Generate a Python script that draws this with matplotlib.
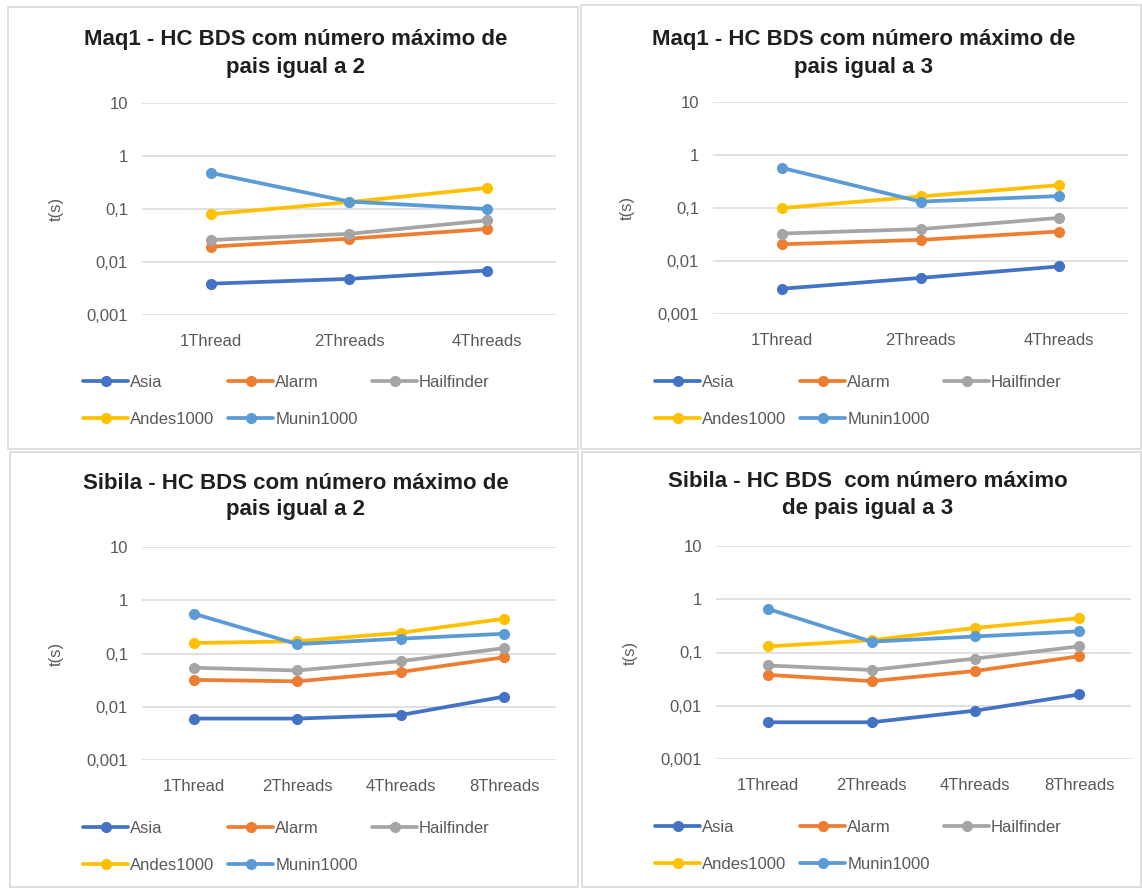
import matplotlib
matplotlib.use("Agg")
import matplotlib.pyplot as plt
from matplotlib.patches import Rectangle
from matplotlib.ticker import FixedLocator, FixedFormatter, NullLocator

plt.rcParams['font.family'] = ['Liberation Sans', 'DejaVu Sans']

W, H = 1142, 888

series = ["Asia", "Alarm", "Hailfinder", "Andes1000", "Munin1000"]
colors = ["#4472C4", "#ED7D31", "#A5A5A5", "#FFC000", "#5B9BD5"]

cats_3 = ["1Thread", "2Threads", "4Threads"]
cats_4 = ["1Thread", "2Threads", "4Threads", "8Threads"]

# Maq1, max parents = 2
maq1_p2 = {
    "Asia":       [0.0039, 0.0048, 0.0069],
    "Alarm":      [0.0195, 0.0275, 0.042],
    "Hailfinder": [0.026, 0.034, 0.061],
    "Andes1000":  [0.080, 0.135, 0.25],
    "Munin1000":  [0.48, 0.138, 0.100],
}
# Maq1, max parents = 3
maq1_p3 = {
    "Asia":       [0.0030, 0.0048, 0.0079],
    "Alarm":      [0.0207, 0.025, 0.036],
    "Hailfinder": [0.033, 0.040, 0.065],
    "Andes1000":  [0.100, 0.165, 0.27],
    "Munin1000":  [0.57, 0.132, 0.168],
}
# Sibila, max parents = 2
sibila_p2 = {
    "Asia":       [0.0060, 0.0060, 0.0070, 0.0155],
    "Alarm":      [0.032, 0.030, 0.045, 0.085],
    "Hailfinder": [0.054, 0.048, 0.072, 0.126],
    "Andes1000":  [0.157, 0.170, 0.245, 0.45],
    "Munin1000":  [0.56, 0.150, 0.190, 0.235],
}
# Sibila, max parents = 3
sibila_p3 = {
    "Asia":       [0.0049, 0.0049, 0.0081, 0.0163],
    "Alarm":      [0.038, 0.029, 0.045, 0.085],
    "Hailfinder": [0.057, 0.047, 0.077, 0.130],
    "Andes1000":  [0.130, 0.170, 0.29, 0.44],
    "Munin1000":  [0.66, 0.160, 0.200, 0.250],
}

y_ticks = [0.001, 0.01, 0.1, 1, 10]
y_ticklabels = ["0,001", "0,01", "0,1", "1", "10"]

TXT = "#595959"
GRID = "#D9D9D9"
FS = 12

fig = plt.figure(figsize=(W / 100, H / 100), dpi=100)


def frame(x0, y0, x1, y1):
    fig.add_artist(Rectangle((x0 / W, 1 - y1 / H), (x1 - x0) / W, (y1 - y0) / H,
                             transform=fig.transFigure, fill=False,
                             edgecolor="#D9D9D9", linewidth=1.2))


def panel(box, title_lines, title_cx, title_y, cats, data, leg_xy):
    x0, x1, y0, y1 = box
    ax = fig.add_axes([x0 / W, 1 - y1 / H, (x1 - x0) / W, (y1 - y0) / H])
    xs = list(range(len(cats)))
    handles = {}
    for name, col in zip(series, colors):
        ln, = ax.plot(xs, data[name], color=col, lw=2.7, marker="o", ms=7,
                      solid_capstyle="round", label=name)
        handles[name] = ln
    ax.set_yscale("log")
    ax.set_ylim(0.001, 10)
    ax.set_xlim(-0.5, len(cats) - 0.5)
    ax.yaxis.set_major_locator(FixedLocator(y_ticks))
    ax.yaxis.set_major_formatter(FixedFormatter(y_ticklabels))
    ax.yaxis.set_minor_locator(NullLocator())
    ax.set_xticks(xs)
    ax.set_xticklabels(cats)
    ax.tick_params(axis="both", length=0, labelsize=FS, labelcolor=TXT)
    ax.tick_params(axis="x", pad=14)
    ax.tick_params(axis="y", pad=10)
    ax.grid(axis="y", color=GRID, lw=1.1)
    ax.set_axisbelow(True)
    for s in ax.spines.values():
        s.set_visible(False)
    ax.set_ylabel("t(s)", color=TXT, fontsize=FS)
    ax.yaxis.set_label_coords((64 - 142) / (x1 - x0), 0.5)

    for i, line in enumerate(title_lines):
        fig.text(title_cx / W, 1 - (title_y + i * 27) / H, line, ha="center",
                 va="center", fontsize=16, fontweight="bold", color="#1F1F1F")

    order = ["Asia", "Andes1000", "Alarm", "Munin1000", "Hailfinder"]
    ax.legend([handles[n] for n in order], order, ncol=3, frameon=False,
              loc="upper left", bbox_to_anchor=(leg_xy[0] / W, 1 - leg_xy[1] / H),
              bbox_transform=fig.transFigure, borderaxespad=0, borderpad=0,
              handlelength=2.7, handletextpad=0.12, columnspacing=0.85,
              labelspacing=1.3, fontsize=FS, labelcolor=TXT)
    return ax


frame(8, 7, 578, 449)
frame(581, 5, 1141, 449)
frame(10, 452, 578, 887)
frame(582, 452, 1141, 887)

panel((142, 556, 103, 315), ["Maq1 - HC BDS com número máximo de", "pais igual a 2"],
      296, 40, cats_3, maq1_p2, (83, 375))
panel((713, 1128, 102, 314), ["Maq1 - HC BDS com número máximo de", "pais igual a 3"],
      864, 40, cats_3, maq1_p3, (655, 375))
panel((142, 556, 547, 760), ["Sibila - HC BDS com número máximo de", "pais igual a 2"],
      296, 483, cats_4, sibila_p2, (83, 821))
panel((716, 1131, 546, 759), ["Sibila - HC BDS  com número máximo", "de pais igual a 3"],
      868, 481, cats_4, sibila_p3, (655, 820))

fig.savefig("out.png", dpi=100, facecolor="white")
